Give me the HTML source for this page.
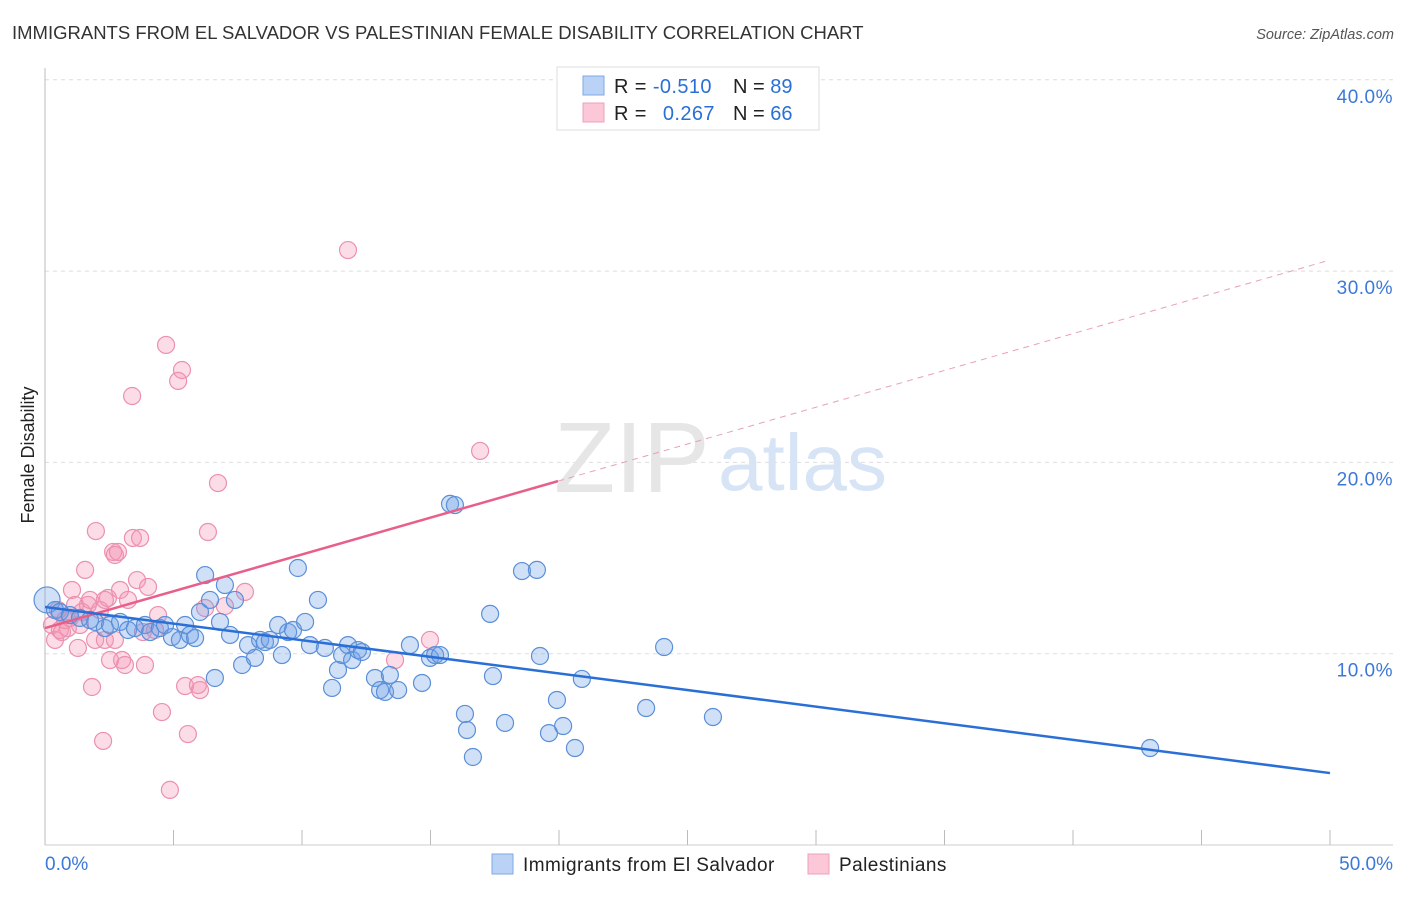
<!DOCTYPE html>
<html><head><meta charset="utf-8"><style>
body{margin:0;background:#fff;font-family:"Liberation Sans",sans-serif}
svg text{font-family:"Liberation Sans",sans-serif}
</style></head><body>
<svg width="1406" height="892" viewBox="0 0 1406 892">
<text x="12" y="39" font-size="18.5" fill="#333">IMMIGRANTS FROM EL SALVADOR VS PALESTINIAN FEMALE DISABILITY CORRELATION CHART</text>
<text x="1394" y="39" font-size="14.5" fill="#555" font-style="italic" text-anchor="end">Source: ZipAtlas.com</text>
<g id="grid"></g>
<text x="554" y="492" font-size="100" fill="#e6e6e6" font-family="Liberation Serif">ZIP</text>
<text x="718" y="490" font-size="80" fill="#d6e4f5">atlas</text>
<text x="34" y="455" font-size="18" fill="#222" transform="rotate(-90 34 455)" text-anchor="middle">Female Disability</text>
<g id="points"></g>
<g id="lines"></g>
<g>
<rect x="557" y="67" width="262" height="63" fill="#fff" stroke="#ddd"/>
<rect x="583" y="76" width="21" height="19" fill="#b9d2f5" stroke="#7fa9e3"/>
<rect x="583" y="103" width="21" height="19" fill="#fcc8d8" stroke="#eda0b8"/>
<text x="614" y="93" font-size="20" fill="#222" letter-spacing="0.4">R = <tspan fill="#2a6fd6">-0.510</tspan></text>
<text x="733" y="93" font-size="20" fill="#222">N = <tspan fill="#2a6fd6">89</tspan></text>
<text x="614" y="120" font-size="20" fill="#222" letter-spacing="0.4">R = <tspan fill="#2a6fd6" dx="10">0.267</tspan></text>
<text x="733" y="120" font-size="20" fill="#222">N = <tspan fill="#2a6fd6">66</tspan></text>
</g>
<g>
<rect x="492" y="854" width="21" height="20" fill="#b9d2f5" stroke="#7fa9e3"/>
<text x="523" y="871" font-size="19" fill="#222" letter-spacing="0.45">Immigrants from El Salvador</text>
<rect x="808" y="854" width="21" height="20" fill="#fcc8d8" stroke="#eda0b8"/>
<text x="839" y="871" font-size="19" fill="#222" letter-spacing="0.45">Palestinians</text>
</g>
</svg>
<script>
const yTicks=[10,20,30,40];
const yTickLabels=["10.0%","20.0%","30.0%","40.0%"];
const xTicks=[0,5,10,15,20,25,30,35,40,45,50];
const blueX=[0.08,0.39,0.58,0.97,1.36,1.75,1.95,2.33,2.53,2.92,3.23,3.5,3.89,4.09,4.47,4.67,4.94,5.25,5.45,5.64,5.84,6.03,6.23,6.42,6.61,6.81,7.0,7.2,7.39,7.67,7.9,8.17,8.37,8.56,8.75,9.07,9.22,9.46,9.65,9.84,10.12,10.31,10.62,10.89,11.17,11.4,11.56,11.79,11.95,12.18,12.33,12.84,13.04,13.23,13.42,13.74,14.2,14.67,14.98,15.18,15.37,15.76,15.95,16.34,16.42,16.65,17.32,17.43,17.9,18.56,19.14,19.26,19.61,19.92,20.16,20.62,20.89,23.39,24.09,25.99,43.0];
const blueY=[12.81,12.28,12.18,12.02,11.87,11.76,11.66,11.34,11.5,11.66,11.24,11.34,11.5,11.13,11.34,11.5,10.87,10.72,11.5,10.98,10.82,12.18,14.11,12.81,8.73,11.66,13.59,10.98,12.81,9.41,10.45,9.78,10.72,10.61,10.72,11.5,9.93,11.13,11.24,14.48,11.66,10.45,12.81,10.3,8.21,9.15,9.93,10.45,9.67,10.19,10.09,8.73,8.1,8.0,8.89,8.1,10.45,8.47,9.78,9.93,9.93,17.83,17.77,6.85,6.01,4.6,12.08,8.83,6.38,14.32,14.38,9.88,5.85,7.58,6.22,5.07,8.68,7.16,10.35,6.69,5.07];
const pinkX=[0.27,0.39,0.51,0.58,0.66,0.78,0.89,0.97,1.05,1.17,1.28,1.36,1.44,1.56,1.67,1.75,1.83,1.95,1.98,2.14,2.26,2.33,2.45,2.53,2.65,2.72,2.84,2.92,3.0,3.11,3.23,3.39,3.42,3.58,3.7,3.81,3.89,4.01,4.28,4.4,4.55,4.71,4.86,5.18,5.33,5.45,5.56,5.95,6.03,6.23,6.34,6.73,7.0,7.78,11.79,13.62,14.98,16.93,2.33,2.72];
const pinkY=[11.5,10.72,12.28,11.24,11.13,11.76,11.34,11.87,13.33,12.55,10.3,11.5,12.18,14.38,12.55,12.81,8.26,10.72,16.41,12.28,5.44,10.72,12.91,9.67,15.32,15.16,15.32,13.33,9.67,9.41,12.81,23.47,16.05,13.85,16.05,11.13,9.41,13.49,11.24,12.02,6.95,26.14,2.88,24.26,24.83,8.31,5.8,8.36,8.1,12.39,16.36,18.92,12.49,13.23,31.1,9.67,10.72,20.6,12.81,10.72];
const blueLine=[12.44,3.76];
const pinkLine=[11.34,30.58];
const pinkSolidEnd=19.96;

const NS='http://www.w3.org/2000/svg';
const sx=v=>45+v*25.7;
const sy=v=>845-v*19.13;
function mk(tag,attrs,parent){const e=document.createElementNS(NS,tag);for(const k in attrs)e.setAttribute(k,attrs[k]);parent.appendChild(e);return e;}
const grid=document.getElementById('grid');
yTicks.forEach((t,i)=>{
 const l=mk('line',{x1:45,x2:1393,y1:sy(t),y2:sy(t),stroke:'#ddd','stroke-dasharray':'4,4'},grid);
 
 
 const tx=mk('text',{x:1393,y:sy(t)+23,'font-size':19,fill:'#3b78d8','text-anchor':'end','letter-spacing':0.5},grid);
 tx.textContent=yTickLabels[i];
 
 
});
const ax=mk('line',{x1:45,x2:45,y1:68,y2:845,stroke:'#bbb'},grid);


const bx=mk('line',{x1:45,x2:1393,y1:845,y2:845,stroke:'#ccc'},grid);


xTicks.forEach(t=>{
 const l=mk('line',{x1:sx(t),x2:sx(t),y1:830,y2:845,stroke:'#bbb'},grid);
 
 
});
const x0=mk('text',{x:45,y:870,'font-size':19,fill:'#3b78d8'},grid);x0.textContent='0.0%';


const x1=mk('text',{x:1393,y:870,'font-size':19,fill:'#3b78d8','text-anchor':'end'},grid);x1.textContent='50.0%';



const pts=document.getElementById('points');
pinkX.forEach((x,i)=>{
 const c=mk('circle',{cx:sx(x),cy:sy(pinkY[i]),r:8.5,fill:'rgba(245,150,180,0.32)',stroke:'#eb90ae','stroke-width':1.2},pts);
 
 
});
blueX.forEach((x,i)=>{
 const c=mk('circle',{cx:sx(x),cy:sy(blueY[i]),r:i===0?13:8.5,fill:'rgba(110,160,230,0.32)',stroke:'#5b8fd8','stroke-width':1.2},pts);
 
 
});
const ln=document.getElementById('lines');
const pAt=x=>pinkLine[0]+(pinkLine[1]-pinkLine[0])*x/50;
const pd=mk('line',{x1:sx(pinkSolidEnd),y1:sy(pAt(pinkSolidEnd)),x2:sx(50),y2:sy(pinkLine[1]),stroke:'#e8a0b8','stroke-width':1,'stroke-dasharray':'6,5'},ln);


const ps=mk('line',{x1:sx(0),y1:sy(pinkLine[0]),x2:sx(pinkSolidEnd),y2:sy(pAt(pinkSolidEnd)),stroke:'#e8608a','stroke-width':2.5},ln);


const bl=mk('line',{x1:sx(0),y1:sy(blueLine[0]),x2:sx(50),y2:sy(blueLine[1]),stroke:'#2a6fd6','stroke-width':2.5},ln);


</script>
</body></html>
